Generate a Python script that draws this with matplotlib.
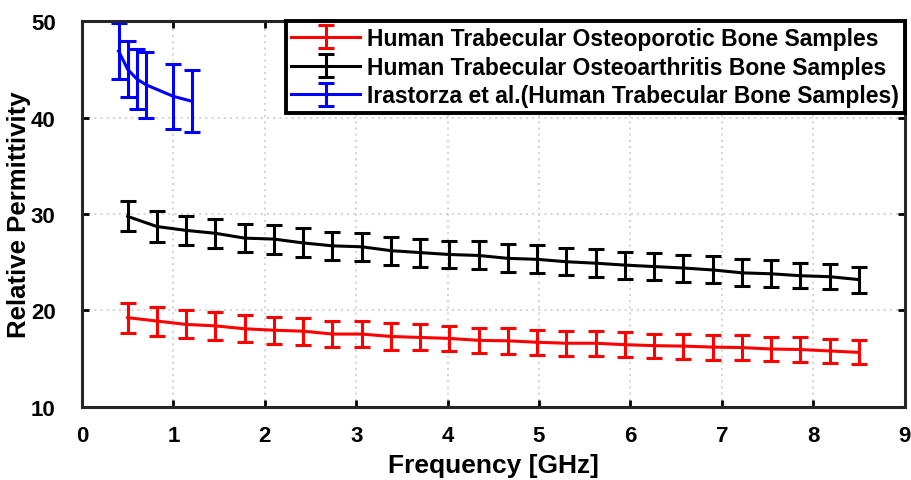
import numpy as np
import matplotlib
matplotlib.use('agg')
import matplotlib.pyplot as plt

plt.rcParams['font.family'] = ['Liberation Sans', 'DejaVu Sans']
plt.rcParams['font.weight'] = 'bold'

# frequency points (GHz) for the two measured series
freq = [0.50, 0.82, 1.14, 1.46, 1.78, 2.10, 2.42, 2.74, 3.06, 3.38, 3.70, 4.02, 4.34,
        4.66, 4.98, 5.30, 5.62, 5.94, 6.26, 6.58, 6.90, 7.22, 7.54, 7.86, 8.18, 8.50]

osteoporotic = [19.25, 18.9, 18.55, 18.4, 18.1, 17.95, 17.85, 17.55, 17.55, 17.3, 17.2, 17.1, 16.9,
                16.85, 16.7, 16.6, 16.6, 16.45, 16.35, 16.3, 16.2, 16.15, 16.0, 15.95, 15.8, 15.65]
osteoporotic_err = [1.55, 1.5, 1.45, 1.45, 1.4, 1.4, 1.4, 1.35, 1.35, 1.4, 1.35, 1.3, 1.3,
                    1.35, 1.3, 1.3, 1.3, 1.3, 1.25, 1.3, 1.3, 1.3, 1.25, 1.25, 1.2, 1.25]

osteoarthritis = [29.75, 28.7, 28.3, 28.0, 27.5, 27.4, 27.0, 26.7, 26.6, 26.2, 26.0, 25.8, 25.7,
                  25.4, 25.3, 25.05, 24.9, 24.7, 24.55, 24.4, 24.2, 23.9, 23.8, 23.6, 23.5, 23.2]
osteoarthritis_err = [1.55, 1.6, 1.5, 1.5, 1.45, 1.5, 1.5, 1.45, 1.45, 1.45, 1.45, 1.45, 1.45,
                      1.45, 1.45, 1.4, 1.45, 1.4, 1.4, 1.4, 1.4, 1.4, 1.4, 1.3, 1.3, 1.35]

# Irastorza et al. reference data
freq_ira = [0.4, 0.5, 0.6, 0.7, 1.0, 1.2]
ira = [46.9, 45.0, 44.0, 43.4, 42.2, 41.7]
ira_err = [2.9, 2.9, 3.1, 3.4, 3.4, 3.2]

labels = ['Human Trabecular Osteoporotic Bone Samples',
          'Human Trabecular Osteoarthritis Bone Samples',
          'Irastorza et al.(Human Trabecular Bone Samples)']

fig = plt.figure(figsize=(9.11, 4.81), dpi=100)
ax = fig.add_axes([0.090, 0.152, 0.903, 0.802])

kw = dict(linewidth=2.2, elinewidth=2.2, capsize=6, capthick=2.2)
ax.errorbar(freq, osteoporotic, yerr=osteoporotic_err, color='#ff0000', label=labels[0], **kw)
ax.errorbar(freq, osteoarthritis, yerr=osteoarthritis_err, color='black', label=labels[1], **kw)
ax.errorbar(freq_ira, ira, yerr=ira_err, color='#0000ff', label=labels[2], **kw)

ax.set_xlim(0, 9)
ax.set_ylim(10, 50)
ax.set_xticks(range(0, 10))
ax.set_yticks([10, 20, 30, 40, 50])
ax.grid(True, linestyle=(0, (1.2, 2.5)), color='#cccccc', linewidth=1.2)
ax.tick_params(direction='in', length=5, width=2, labelsize=16, top=True, right=True)
ax.tick_params(axis='x', pad=13)
ax.tick_params(axis='y', pad=19)
for s in ax.spines.values():
    s.set_linewidth(2.2)
    s.set_color('#262626')

ax.set_xlabel('Frequency [GHz]', fontsize=19, fontweight='bold', labelpad=5)
ax.set_ylabel('Relative Permittivity', fontsize=18.5, fontweight='bold', labelpad=0)

leg = ax.legend(loc='upper right', fontsize=16.5, frameon=True, fancybox=False,
                borderpad=0.25, labelspacing=0.25, handlelength=3.0, handletextpad=0.3,
                borderaxespad=0.0)
leg.get_frame().set_edgecolor('black')
leg.get_frame().set_linewidth(2.8)
leg.get_frame().set_alpha(1)

fig.savefig('out.png', dpi=100)
